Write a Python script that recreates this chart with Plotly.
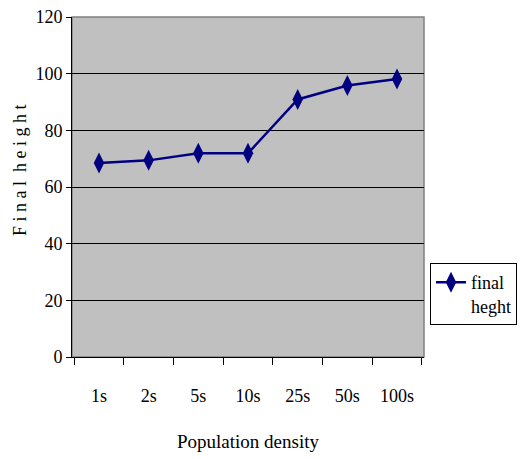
import plotly.graph_objects as go

categories = ["1s", "2s", "5s", "10s", "25s", "50s", "100s"]
final_height = [68.5, 69.4, 71.9, 71.9, 90.9, 95.8, 98.1]
y_ticks = [0, 20, 40, 60, 80, 100, 120]

font_family = "Liberation Serif"

fig = go.Figure()
fig.add_trace(
    go.Scatter(
        x=categories,
        y=final_height,
        mode="lines+markers",
        name="final<br>heght",
        line=dict(color="#000080", width=2.5),
        marker=dict(symbol="diamond-tall", size=15, color="#000080"),
    )
)

# page has an 8px body margin, so the margins are trimmed to compensate
fig.update_layout(
    width=527,
    height=459,
    margin=dict(l=64, r=111, t=9, b=110),
    paper_bgcolor="white",
    plot_bgcolor="#C0C0C0",
    font=dict(family=font_family, size=18, color="black"),
    showlegend=True,
    legend=dict(
        x=1.017,
        y=0.276,
        xanchor="left",
        yanchor="top",
        valign="top",
        bordercolor="black",
        borderwidth=1,
        bgcolor="white",
        font=dict(family=font_family, size=18),
        itemwidth=30,
    ),
)

fig.update_xaxes(
    type="category",
    automargin=False,
    showgrid=False,
    showline=True,
    linecolor="black",
    linewidth=1,
    ticks="outside",
    tickson="boundaries",
    ticklen=7,
    tickcolor="black",
    ticklabelstandoff=22,
    tickfont=dict(family=font_family, size=18),
    title=dict(text="Population density", standoff=30,
               font=dict(family=font_family, size=19)),
)

fig.update_yaxes(
    range=[0, 120],
    tickvals=y_ticks,
    automargin=False,
    ticklabeloverflow="allow",
    showgrid=True,
    gridcolor="black",
    gridwidth=1,
    showline=True,
    linecolor="black",
    linewidth=1,
    ticks="outside",
    ticklen=5,
    tickcolor="black",
    zeroline=False,
    tickfont=dict(family=font_family, size=18),
)

# y title sits a little above the middle of the axis
fig.add_annotation(
    text="F i n a l  h e i g h t", textangle=-90, showarrow=False,
    xref="paper", yref="paper", x=-0.148, y=0.55,
    xanchor="center", yanchor="middle",
    font=dict(family=font_family, size=18),
)

# grey frame on the top and right of the plot area
fig.add_shape(
    type="rect", xref="paper", yref="paper", x0=0, y0=0, x1=1, y1=1,
    line=dict(color="#808080", width=1.5), layer="below",
)

fig.write_html("out.html")
